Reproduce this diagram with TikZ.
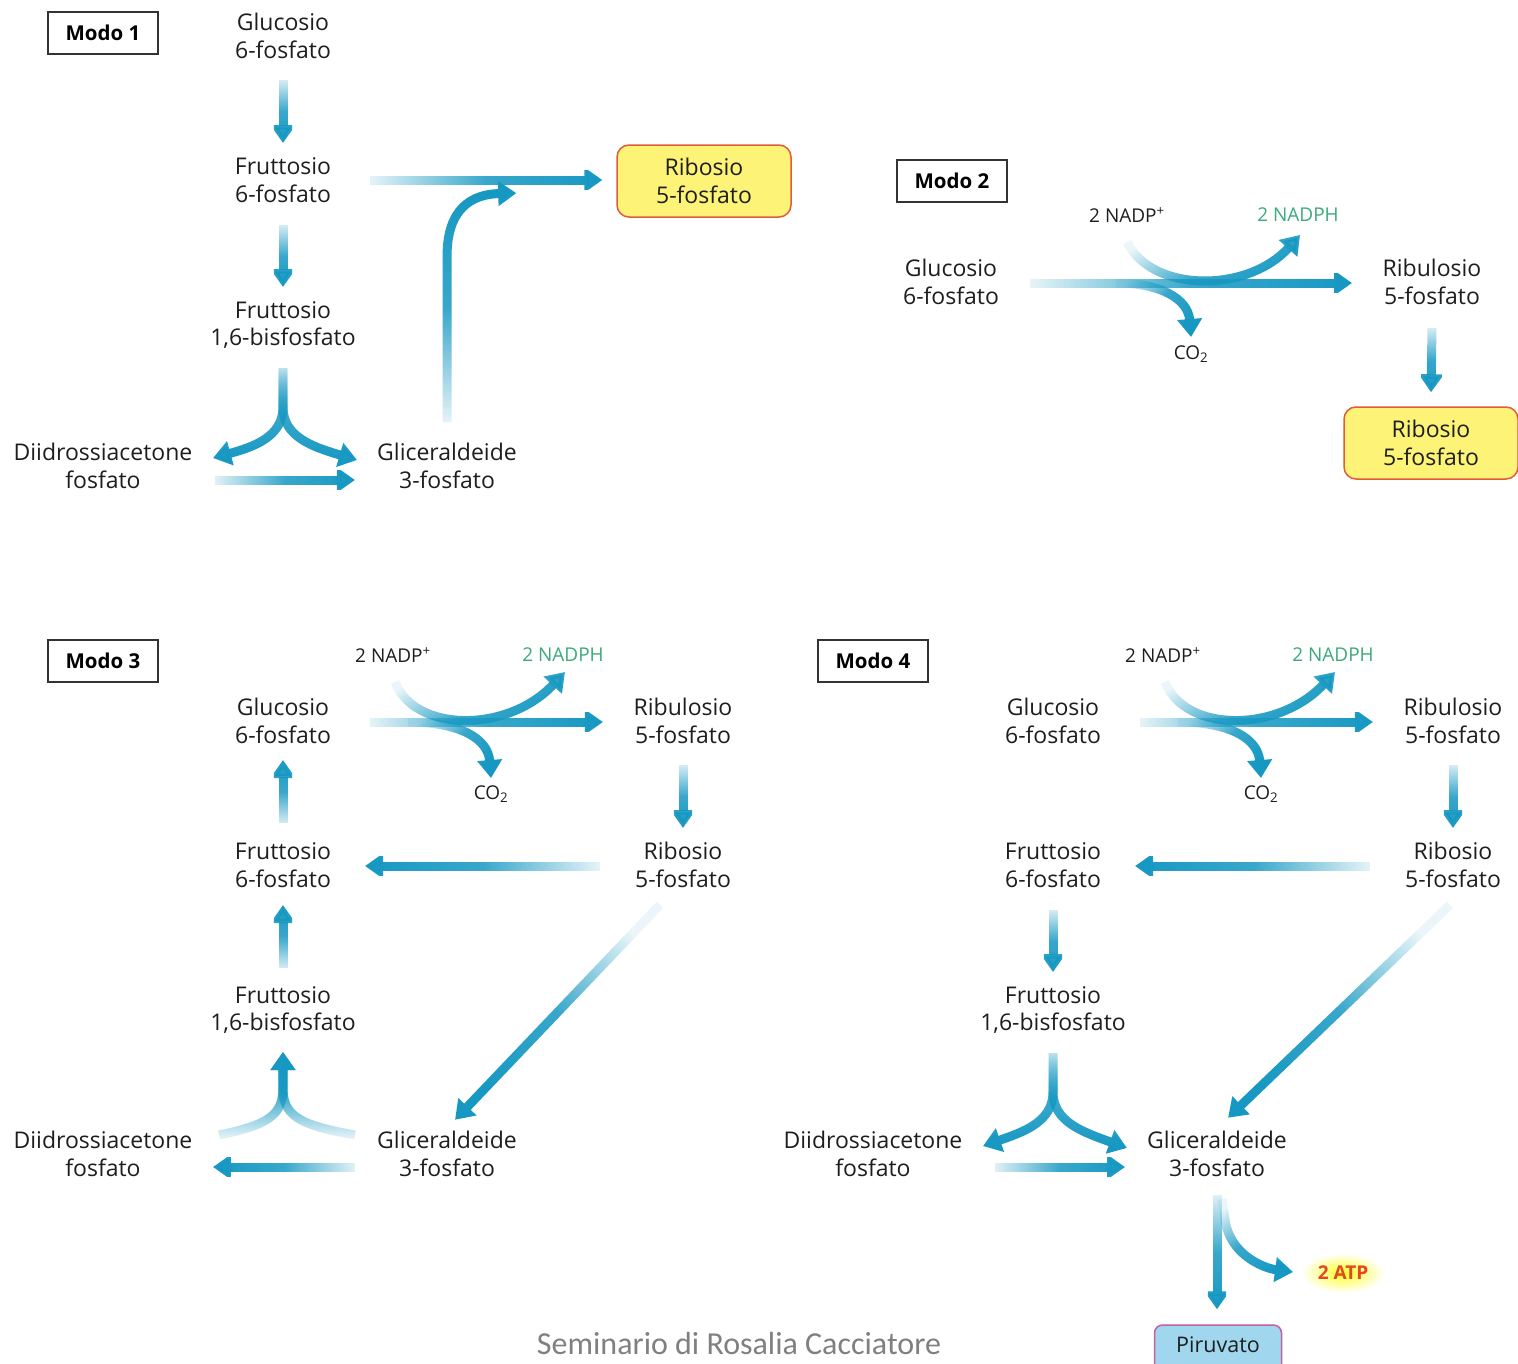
\documentclass[tikz,border=0pt]{standalone}
\usepackage{fontspec}
\setmainfont{Open Sans}
\newfontfamily\footfont{Carlito}
\usetikzlibrary{arrows.meta,fadings,calc}
\definecolor{arrc}{RGB}{22,152,194}
\definecolor{txt}{RGB}{30,30,30}
\definecolor{nadph}{RGB}{60,170,125}
\definecolor{ribfill}{RGB}{253,243,118}
\definecolor{ribline}{RGB}{226,92,58}
\definecolor{pirfill}{RGB}{160,214,238}
\definecolor{pirline}{RGB}{196,96,160}
\definecolor{atpc}{RGB}{226,70,36}
\tikzfading[name=tailfade, left color=transparent!92, right color=transparent!0, middle color=transparent!15]
\begin{document}
\begin{tikzpicture}[x=1pt,y=-1pt,
  lbl/.style={font=\fontsize{23}{27.5}\selectfont, align=center, text=txt, inner sep=0pt},
  small/.style={font=\fontsize{19}{22}\selectfont, text=txt, inner sep=0pt},
  modo/.style={draw=black!80, line width=1.5pt, fill=white, font=\bfseries\fontsize{20.5}{24}\selectfont, minimum width=110pt, minimum height=42pt, inner sep=0pt},
  ribbox/.style={rounded corners=12pt, draw=ribline, line width=1.5pt, fill=ribfill, minimum width=174pt, minimum height=72pt, align=center, inner sep=0pt, font=\fontsize{23}{27.5}\selectfont, text=txt},
  arr/.style={line width=9pt, draw=arrc, -{Triangle[width=24pt,length=18pt]}},
  fE/.style={path fading=tailfade},
  fW/.style={path fading=tailfade, fading angle=180},
  fS/.style={path fading=tailfade, fading angle=-90},
  fN/.style={path fading=tailfade, fading angle=90},
  fD/.style={path fading=tailfade, fading angle=#1}]
\useasboundingbox (0,0) rectangle (1518,1363);
\fill[white] (0,0) rectangle (1518,1363);

% ---------- Modo 1
\node[modo] (m1) at (103,33) {Modo 1};
\node[lbl] (a1) at (283,36) {Glucosio\\6-fosfato};
\node[lbl] (b1) at (283,180) {Fruttosio\\6-fosfato};
\node[lbl] (c1) at (283,325) {Fruttosio\\1,6-bisfosfato};
\node[lbl] (d1) at (103,466) {Diidrossiacetone\\fosfato};
\node[lbl] (e1) at (447,466) {Gliceraldeide\\3-fosfato};
\node[ribbox] (r1) at (704,181) {Ribosio\\5-fosfato};

\draw[arr,fS] ($(a1)+(0,44)$) -- ($(b1)+(0,-37)$);
\draw[arr,fS] ($(b1)+(0,45)$) -- ($(c1)+(0,-38)$);
\draw[arr,fE] ($(b1)+(87,0)$) -- ($(r1.west)+(-14,-1)$);
\draw[arr,fS] ($(c1)+(0,43)$) -- ($(c1)+(0,82)$) .. controls ($(c1)+(0,112)$) and ($(c1)+(-30,122)$) .. ($(d1)+(110,-8)$);
\draw[arr,fS] ($(c1)+(0,43)$) -- ($(c1)+(0,82)$) .. controls ($(c1)+(0,112)$) and ($(c1)+(30,122)$) .. ($(e1)+(-90,-6)$);
\draw[arr,fE] ($(d1)+(112,14)$) -- ($(e1)+(-92,14)$);
\draw[arr,fN] ($(e1)+(0,-44)$) -- ($(e1)+(0,-210)$) .. controls ($(e1)+(0,-258)$) and ($(e1)+(25,-272)$) .. ($(r1.west)+(-100,12)$);

% ---------- Modo 2
\node[modo] (m2) at (952,181) {Modo 2};
\node[lbl] (a2) at (951,282) {Glucosio\\6-fosfato};
\node[lbl] (u2) at (1432,282) {Ribulosio\\5-fosfato};
\node[ribbox] (r2) at (1431,443) {Ribosio\\5-fosfato};
\node[small] (n2) at (1127,215) {2 NADP\textsuperscript{+}};
\node[small,text=nadph] (h2) at (1298,215) {2 NADPH};
\node[small] (c2) at (1191,354) {CO\textsubscript{2}};

\draw[arr,fE] ($(a2)+(79,1)$) -- ($(u2)+(-80,1)$);
\draw[arr,fD=-30] ($(n2)+(0,27)$) .. controls ($(n2)+(25,78)$) and ($(h2)+(-50,78)$) .. ($(h2)+(2,20)$);
\draw[arr,fD=-30] ($(a2)+(165,1)$) .. controls ($(c2)+(-30,-71)$) and ($(c2)+(-3,-55)$) .. ($(c2)+(0,-17)$);
\draw[arr,fS] ($(u2)+(0,46)$) -- ($(r2.north)+(0,-14)$);

% ---------- Modo 3
\node[modo] (m3) at (103,661) {Modo 3};
\node[small] (n3) at (393,655) {2 NADP\textsuperscript{+}};
\node[small,text=nadph] (h3) at (563,655) {2 NADPH};
\node[lbl] (a3) at (283,721) {Glucosio\\6-fosfato};
\node[lbl] (u3) at (683,721) {Ribulosio\\5-fosfato};
\node[small] (c3) at (491,794) {CO\textsubscript{2}};
\node[lbl] (r3) at (683,865) {Ribosio\\5-fosfato};
\node[lbl] (f3) at (283,865) {Fruttosio\\6-fosfato};
\node[lbl] (b3) at (283,1010) {Fruttosio\\1,6-bisfosfato};
\node[lbl] (d3) at (103,1154) {Diidrossiacetone\\fosfato};
\node[lbl] (e3) at (447,1154) {Gliceraldeide\\3-fosfato};

\draw[arr,fE] ($(a3)+(87,1)$) -- ($(u3)+(-80,1)$);
\draw[arr,fD=-30] ($(n3)+(2,27)$) .. controls ($(n3)+(22,78)$) and ($(h3)+(-55,78)$) .. ($(h3)+(2,17)$);
\draw[arr,fD=-30] ($(a3)+(125,1)$) .. controls ($(c3)+(-30,-72)$) and ($(c3)+(-3,-55)$) .. ($(c3)+(0,-16)$);
\draw[arr,fS] ($(u3)+(0,44)$) -- ($(r3)+(0,-37)$);
\draw[arr,fW] ($(r3)+(-83,1)$) -- ($(f3)+(82,1)$);
\draw[arr,fN] ($(f3)+(0,-42)$) -- ($(a3)+(0,39)$);
\draw[arr,fN] ($(b3)+(0,-42)$) -- ($(f3)+(0,40)$);
\draw[arr,fD=-133.6] ($(r3)+(-23,40)$) -- ($(e3)+(8,-34)$);
\draw[arr,fN] ($(d3)+(116,-19)$) .. controls ($(b3)+(-15,115)$) and ($(b3)+(0,105)$) .. ($(b3)+(0,78)$) -- ($(b3)+(0,42)$);
\draw[arr,fN] ($(e3)+(-92,-19)$) .. controls ($(b3)+(15,115)$) and ($(b3)+(0,105)$) .. ($(b3)+(0,78)$) -- ($(b3)+(0,42)$);
\draw[arr,fW] ($(e3)+(-92,13)$) -- ($(d3)+(110,13)$);

% ---------- Modo 4
\node[modo] (m4) at (873,661) {Modo 4};
\node[small] (n4) at (1163,655) {2 NADP\textsuperscript{+}};
\node[small,text=nadph] (h4) at (1333,655) {2 NADPH};
\node[lbl] (a4) at (1053,721) {Glucosio\\6-fosfato};
\node[lbl] (u4) at (1453,721) {Ribulosio\\5-fosfato};
\node[small] (c4) at (1261,794) {CO\textsubscript{2}};
\node[lbl] (r4) at (1453,865) {Ribosio\\5-fosfato};
\node[lbl] (f4) at (1053,865) {Fruttosio\\6-fosfato};
\node[lbl] (b4) at (1053,1010) {Fruttosio\\1,6-bisfosfato};
\node[lbl] (d4) at (873,1154) {Diidrossiacetone\\fosfato};
\node[lbl] (e4) at (1217,1154) {Gliceraldeide\\3-fosfato};
\shade[inner color=yellow!85, outer color=white] (1343,1273) ellipse (42 and 20);
\node[font=\bfseries\fontsize{19}{22}\selectfont, text=atpc, inner sep=0pt] (atp) at (1343,1273) {2 ATP};
\node[rounded corners=8pt, draw=pirline, line width=1.5pt, fill=pirfill, minimum width=127pt, minimum height=50pt, inner sep=0pt] (pir) at (1218,1350) {};
\node[font=\fontsize{21.5}{25}\selectfont, text=txt, inner sep=0pt, anchor=base] (pirt) at (1218,1352) {Piruvato};

\draw[arr,fE] ($(a4)+(87,1)$) -- ($(u4)+(-80,1)$);
\draw[arr,fD=-30] ($(n4)+(2,27)$) .. controls ($(n4)+(22,78)$) and ($(h4)+(-55,78)$) .. ($(h4)+(2,17)$);
\draw[arr,fD=-30] ($(a4)+(125,1)$) .. controls ($(c4)+(-30,-72)$) and ($(c4)+(-3,-55)$) .. ($(c4)+(0,-16)$);
\draw[arr,fS] ($(u4)+(0,44)$) -- ($(r4)+(0,-37)$);
\draw[arr,fW] ($(r4)+(-83,1)$) -- ($(f4)+(82,1)$);
\draw[arr,fS] ($(f4)+(0,45)$) -- ($(b4)+(0,-38)$);
\draw[arr,fS] ($(b4)+(0,43)$) -- ($(b4)+(0,82)$) .. controls ($(b4)+(0,112)$) and ($(b4)+(-30,122)$) .. ($(d4)+(110,-8)$);
\draw[arr,fS] ($(b4)+(0,43)$) -- ($(b4)+(0,82)$) .. controls ($(b4)+(0,112)$) and ($(b4)+(30,122)$) .. ($(e4)+(-90,-6)$);
\draw[arr,fE] ($(d4)+(122,13)$) -- ($(e4)+(-92,13)$);
\draw[arr,fD=-136.2] ($(r4)+(-3,40)$) -- ($(e4)+(11,-36)$);
\draw[arr,fS] ($(e4)+(0,41)$) -- ($(pir.north)+(-1,-15)$);
\draw[arr,fD=-60] ($(e4)+(5,45)$) -- ($(e4)+(8,65)$) .. controls ($(e4)+(12,100)$) and ($(atp)+(-80,-5)$) .. ($(atp)+(-50,-1)$);

% ---------- footer
\node[font=\footfont\fontsize{32}{36}\selectfont, text=black!50, inner sep=0pt] (ft) at (739,1343) {Seminario di Rosalia Cacciatore};
\end{tikzpicture}
\end{document}
